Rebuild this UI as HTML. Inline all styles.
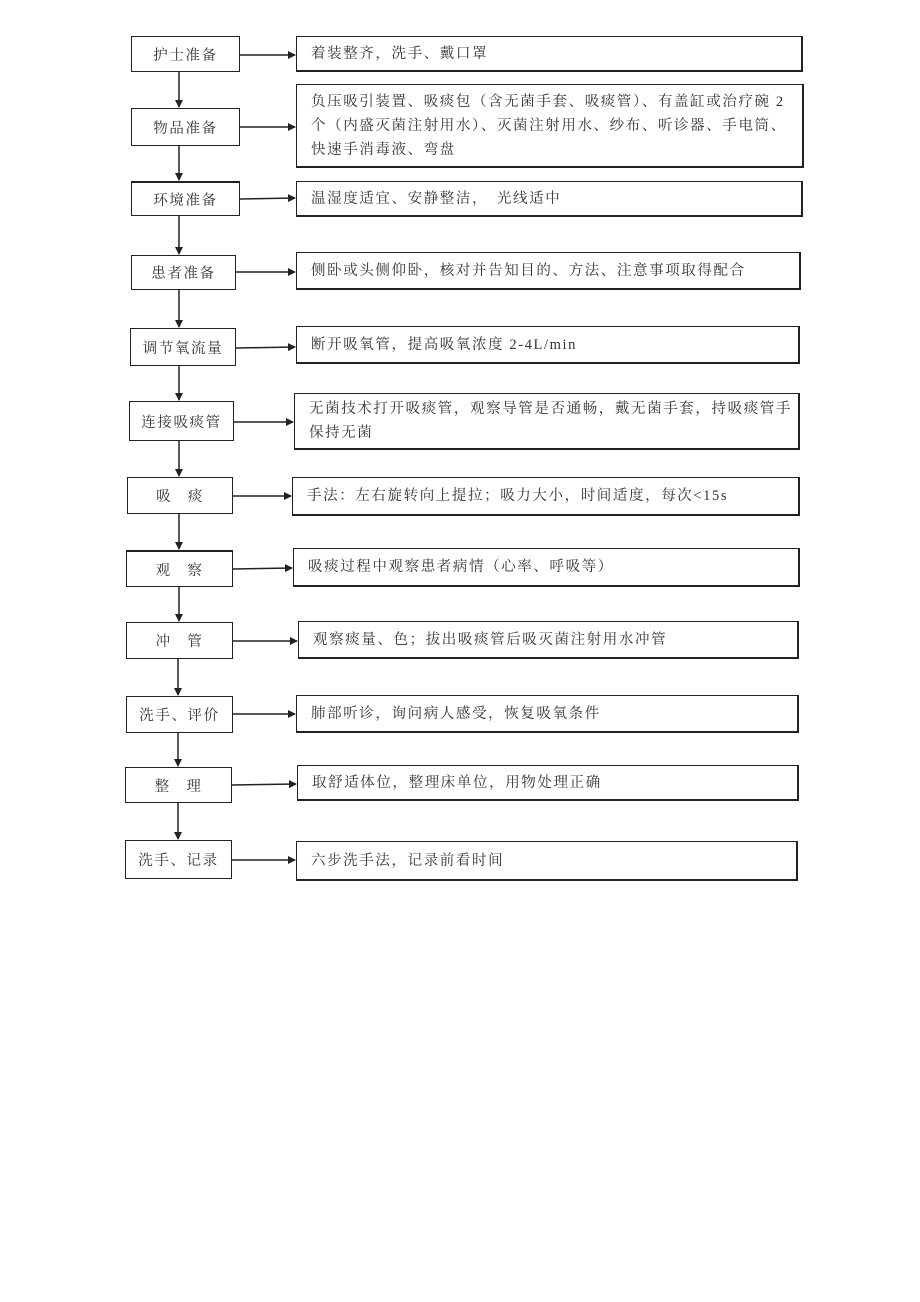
<!DOCTYPE html>
<html><head><meta charset="utf-8"><style>
body{margin:0;background:#fff;}
#c{position:relative;width:920px;height:1302px;overflow:hidden;font-family:"Liberation Serif","Noto Serif CJK SC","Noto Sans CJK SC",serif;color:#333;}
.b{position:absolute;box-sizing:border-box;border:1.5px solid #222;background:#fff;font-size:14.5px;letter-spacing:1.6px;}
.l{display:flex;align-items:center;justify-content:center;}
.r{padding-left:14px;display:flex;flex-direction:column;justify-content:center;line-height:24px;border-right-width:2.5px;border-bottom-width:2px;white-space:nowrap;}
svg{position:absolute;left:0;top:0}
</style></head><body><div id="c">
<svg width="920" height="1302">
<defs><marker id="a" markerWidth="8" markerHeight="8" refX="7" refY="4" orient="auto" markerUnits="userSpaceOnUse"><path d="M0,0 L8,4 L0,8 z" fill="#222"/></marker></defs>
<g stroke="#222" stroke-width="1.5" fill="none" marker-end="url(#a)">
<line x1="240" y1="55" x2="295" y2="55"/>
<line x1="240" y1="127" x2="295" y2="127"/>
<line x1="240" y1="199" x2="295" y2="198"/>
<line x1="236" y1="272" x2="295" y2="272"/>
<line x1="236" y1="348" x2="295" y2="347"/>
<line x1="234" y1="422" x2="293" y2="422"/>
<line x1="233" y1="496" x2="291" y2="496"/>
<line x1="233" y1="569" x2="292" y2="568"/>
<line x1="233" y1="641" x2="297" y2="641"/>
<line x1="233" y1="714" x2="295" y2="714"/>
<line x1="232" y1="785" x2="296" y2="784"/>
<line x1="232" y1="860" x2="295" y2="860"/>
<line x1="179" y1="72" x2="179" y2="107"/>
<line x1="179" y1="146" x2="179" y2="180"/>
<line x1="179" y1="216" x2="179" y2="254"/>
<line x1="179" y1="290" x2="179" y2="327"/>
<line x1="179" y1="366" x2="179" y2="400"/>
<line x1="179" y1="441" x2="179" y2="476"/>
<line x1="179" y1="514" x2="179" y2="549"/>
<line x1="179" y1="587" x2="179" y2="621"/>
<line x1="178" y1="659" x2="178" y2="695"/>
<line x1="178" y1="733" x2="178" y2="766"/>
<line x1="178" y1="803" x2="178" y2="839"/>
</g></svg>
<div class="b l" style="left:131px;top:36px;width:109px;height:36px">护士准备</div>
<div class="b l" style="left:131px;top:108px;width:109px;height:38px">物品准备</div>
<div class="b l" style="left:131px;top:181px;width:109px;height:35px;border-top-width:2.5px">环境准备</div>
<div class="b l" style="left:131px;top:255px;width:105px;height:35px">患者准备</div>
<div class="b l" style="left:130px;top:328px;width:106px;height:38px">调节氧流量</div>
<div class="b l" style="left:129px;top:401px;width:105px;height:40px">连接吸痰管</div>
<div class="b l" style="left:127px;top:477px;width:106px;height:37px">吸&nbsp;&nbsp;&nbsp;痰</div>
<div class="b l" style="left:126px;top:550px;width:107px;height:37px;border-top-width:2.5px">观&nbsp;&nbsp;&nbsp;察</div>
<div class="b l" style="left:126px;top:622px;width:107px;height:37px">冲&nbsp;&nbsp;&nbsp;管</div>
<div class="b l" style="left:126px;top:696px;width:107px;height:37px">洗手、评价</div>
<div class="b l" style="left:125px;top:767px;width:107px;height:36px">整&nbsp;&nbsp;&nbsp;理</div>
<div class="b l" style="left:125px;top:840px;width:107px;height:39px">洗手、记录</div>

<div class="b r" style="left:296px;top:36px;width:507px;height:36px">着装整齐，洗手、戴口罩</div>
<div class="b r" style="left:296px;top:84px;width:508px;height:84px"><div>负压吸引装置、吸痰包（含无菌手套、吸痰管）、有盖缸或治疗碗 2</div><div>个（内盛灭菌注射用水）、灭菌注射用水、纱布、听诊器、手电筒、</div><div>快速手消毒液、弯盘</div></div>
<div class="b r" style="left:296px;top:181px;width:507px;height:36px">温湿度适宜、安静整洁，　光线适中</div>
<div class="b r" style="left:296px;top:252px;width:505px;height:38px">侧卧或头侧仰卧，核对并告知目的、方法、注意事项取得配合</div>
<div class="b r" style="left:296px;top:326px;width:504px;height:38px">断开吸氧管，提高吸氧浓度 2-4L/min</div>
<div class="b r" style="left:294px;top:393px;width:506px;height:57px"><div>无菌技术打开吸痰管，观察导管是否通畅，戴无菌手套，持吸痰管手</div><div>保持无菌</div></div>
<div class="b r" style="left:292px;top:477px;width:508px;height:39px">手法：左右旋转向上提拉；吸力大小，时间适度，每次&lt;15s</div>
<div class="b r" style="left:293px;top:548px;width:507px;height:39px">吸痰过程中观察患者病情（心率、呼吸等）</div>
<div class="b r" style="left:298px;top:621px;width:501px;height:38px">观察痰量、色；拔出吸痰管后吸灭菌注射用水冲管</div>
<div class="b r" style="left:296px;top:695px;width:503px;height:38px">肺部听诊，询问病人感受，恢复吸氧条件</div>
<div class="b r" style="left:297px;top:765px;width:502px;height:36px">取舒适体位，整理床单位，用物处理正确</div>
<div class="b r" style="left:296px;top:841px;width:502px;height:40px">六步洗手法，记录前看时间</div>
</div></body></html>
